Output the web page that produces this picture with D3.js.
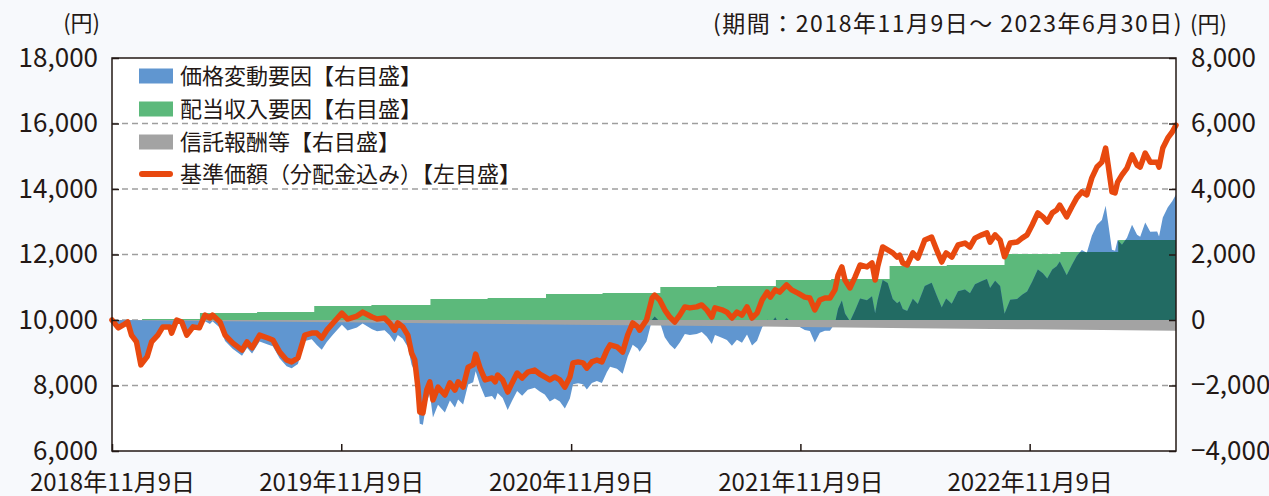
<!DOCTYPE html>
<html>
<head>
<meta charset="utf-8">
<script src="https://cdn.jsdelivr.net/npm/d3@7"></script>
<style>
  body { margin: 0; background: #f7f9fc; }
  text { font-family: "Noto Sans CJK JP", "Noto Sans", sans-serif; fill: #231815; }
</style>
</head>
<body>
<div id="chart"></div>
<script>
// 基準価額（分配金込み）と価格変動要因
const navDates = [
  "2018-11-09","2018-11-19","2018-11-27","2018-12-04","2018-12-10","2018-12-18","2018-12-25","2019-01-04","2019-01-11","2019-01-21",
  "2019-01-29","2019-02-09","2019-02-12","2019-02-20","2019-02-28","2019-03-08","2019-03-18","2019-03-28","2019-04-06","2019-04-14",
  "2019-04-18","2019-04-30","2019-05-08","2019-05-20","2019-06-04","2019-06-12","2019-06-20","2019-07-02","2019-07-15","2019-07-23",
  "2019-08-03","2019-08-14","2019-08-22","2019-09-01","2019-09-12","2019-09-23","2019-10-01","2019-10-09","2019-10-17","2019-10-27",
  "2019-11-10","2019-11-19","2019-12-04","2019-12-13","2019-12-28","2020-01-05","2020-01-17","2020-01-25","2020-02-02","2020-02-07",
  "2020-02-15","2020-02-23","2020-02-29","2020-03-05","2020-03-10","2020-03-13","2020-03-18","2020-03-24","2020-03-29","2020-04-03",
  "2020-04-11","2020-04-22","2020-04-30","2020-05-08","2020-05-13","2020-05-21","2020-05-29","2020-06-06","2020-06-10","2020-06-17",
  "2020-06-25","2020-07-06","2020-07-11","2020-07-15","2020-07-23","2020-07-31","2020-08-07","2020-08-15","2020-08-23","2020-09-01",
  "2020-09-12","2020-09-20","2020-09-28","2020-10-06","2020-10-14","2020-10-22","2020-10-30","2020-11-07","2020-11-12","2020-11-20",
  "2020-11-28","2020-12-04","2020-12-12","2020-12-20","2020-12-28","2021-01-05","2021-01-10","2021-01-21","2021-01-30","2021-02-07",
  "2021-02-15","2021-02-23","2021-02-26","2021-03-09","2021-03-18","2021-03-22","2021-03-30","2021-04-07","2021-04-15","2021-04-23",
  "2021-05-01","2021-05-09","2021-05-17","2021-05-28","2021-06-05","2021-06-13","2021-06-21","2021-06-26","2021-07-07","2021-07-15",
  "2021-07-23","2021-07-31","2021-08-08","2021-08-16","2021-08-24","2021-09-01","2021-09-09","2021-09-17","2021-09-22","2021-09-30",
  "2021-10-07","2021-10-18","2021-10-26","2021-11-05","2021-11-16","2021-11-24","2021-12-02","2021-12-10","2021-12-18","2021-12-26",
  "2022-01-03","2022-01-08","2022-01-14","2022-01-19","2022-01-27","2022-02-04","2022-02-12","2022-02-23","2022-03-03","2022-03-08",
  "2022-03-12","2022-03-20","2022-03-28","2022-04-05","2022-04-12","2022-04-16","2022-04-21","2022-04-28","2022-05-07","2022-05-15",
  "2022-05-26","2022-06-06","2022-06-14","2022-06-22","2022-06-29","2022-07-08","2022-07-18","2022-07-29","2022-08-06","2022-08-14",
  "2022-08-25","2022-09-02","2022-09-07","2022-09-15","2022-09-23","2022-09-30","2022-10-09","2022-10-20","2022-10-28","2022-11-05",
  "2022-11-13","2022-11-22","2022-11-30","2022-12-07","2022-12-15","2022-12-22","2022-12-27","2023-01-07","2023-01-15","2023-01-23",
  "2023-01-31","2023-02-08","2023-02-16","2023-02-24","2023-03-04","2023-03-10","2023-03-14","2023-03-20","2023-03-25","2023-03-29",
  "2023-04-05","2023-04-13","2023-04-21","2023-04-29","2023-05-04","2023-05-12","2023-05-20","2023-05-31","2023-06-03","2023-06-09",
  "2023-06-17","2023-06-24","2023-06-30"
];
const navValues = [
  10000,9760,9850,9940,9540,9330,8630,8880,9330,9540,
  9790,9790,9600,10000,9940,9540,9790,9760,10150,10060,
  10150,9940,9540,9300,9080,9330,9150,9540,9450,9390,
  9020,8780,8720,8840,9540,9600,9600,9450,9690,9910,
  10210,10030,10120,10240,10090,10030,10060,9910,9690,9910,
  9790,9540,8990,8780,7950,7190,7160,7860,8110,7560,
  7950,7710,8080,7860,8110,7950,8560,8630,8960,8530,
  8170,8230,8110,8320,8170,7800,8080,8380,8230,8410,
  8470,8350,8260,8170,8260,8170,7950,8260,8690,8720,
  8690,8530,8720,8780,8720,9080,9240,9180,9020,9540,
  9910,9790,9690,10000,10670,10760,10610,10310,10090,9940,
  10150,10400,10370,10400,10460,10310,10090,10370,10310,10240,
  10060,10240,10150,10400,10060,10210,10610,10850,10700,10920,
  10850,11070,10920,10820,10700,10670,10310,10610,10670,10670,
  10920,11370,11620,11220,10980,11310,11680,11620,11740,11220,
  11620,12230,12140,12050,11920,11980,11740,11680,12050,11890,
  12440,12530,12140,11770,12050,11920,12290,12350,12230,12500,
  12600,12660,12380,12600,12440,11930,12350,12380,12500,12600,
  12900,13270,13150,12990,13270,13360,13510,13150,13450,13730,
  13910,13820,14340,14670,14820,15250,14730,13910,13880,14210,
  14430,14640,15040,14730,14670,15100,14820,14820,14670,15250,
  15560,15740,15950
];
const priceValues = [
  0,-240,-145,-55,-455,-660,-1360,-1140,-690,-475,
  -225,-220,-410,-10,-70,-465,-215,-245,-35,-125,
  -35,-240,-640,-880,-1095,-845,-1020,-660,-745,-805,
  -1175,-1410,-1470,-1345,-645,-585,-760,-910,-670,-445,
  -145,-320,-230,-105,-285,-345,-310,-460,-675,-455,
  -575,-825,-1370,-1580,-2410,-3170,-3200,-2495,-2245,-2980,
  -2590,-2825,-2455,-2675,-2425,-2580,-1970,-1900,-1565,-1995,
  -2355,-2320,-2440,-2230,-2380,-2745,-2465,-2165,-2315,-2130,
  -2070,-2185,-2275,-2490,-2400,-2485,-2705,-2395,-1960,-1930,
  -1960,-2120,-1925,-1865,-1925,-1590,-1430,-1490,-1645,-1125,
  -755,-870,-970,-660,15,105,-45,-530,-745,-895,
  -685,-430,-460,-430,-365,-515,-735,-455,-540,-610,
  -790,-605,-695,-445,-780,-630,-230,15,-135,85,
  -165,60,-90,-185,-305,-335,-690,-390,-330,-325,
  -105,345,595,200,-40,290,660,605,725,205,
  610,1220,1130,640,515,575,335,275,650,490,
  1040,1135,745,380,660,500,875,935,815,1090,
  1190,1250,975,1195,1035,190,615,645,770,870,
  1170,1540,1425,1265,1545,1640,1790,1370,1675,1955,
  2135,2050,2570,2900,3050,3485,2965,2145,2115,2445,
  2300,2510,2910,2605,2545,2975,2695,2700,2550,3130,
  3445,3625,3835
];
// 配当収入要因（累積）
const divDates = ["2018-11-09","2018-12-27","2019-03-29","2019-06-28","2019-09-27","2019-12-27","2020-03-30","2020-06-29","2020-09-30",
  "2020-12-29","2021-03-31","2021-06-29","2021-10-01","2021-12-28","2022-03-31","2022-06-30","2022-09-30","2022-12-28","2023-03-30","2023-06-30"];
const divValues = [0,30,215,245,425,455,640,670,795,825,1010,1040,1220,1250,1650,1680,2015,2075,2445,2445];
// 信託報酬等
const feeDates = ["2018-11-09","2019-05-09","2019-11-09","2020-05-09","2020-11-09","2021-05-09","2021-11-09","2022-05-09","2022-11-09","2023-06-30"];
const feeValues = [0,-35,-70,-107,-142,-178,-213,-249,-285,-330];

const leftTicks = [6000, 8000, 10000, 12000, 14000, 16000, 18000];
const rightTicks = [-4000, -2000, 0, 2000, 4000, 6000, 8000];
const gridTicks = [8000, 10000, 12000, 14000, 16000];
const xTickDates = ["2018-11-09","2019-11-09","2020-11-09","2021-11-09","2022-11-09"];
const legendLabels = ["価格変動要因【右目盛】", "配当収入要因【右目盛】", "信託報酬等【右目盛】", "基準価額（分配金込み）【左目盛】"];

const colors = {blue: "#6096d0", green: "#5cb97b", teal: "#226b63", gray: "#a3a3a3", line: "#e8490f", ink: "#231815"};

const W = 1269, H = 496;
const plot = {left: 112, right: 1176, top: 58, bottom: 451};
const parse = d3.timeParse("%Y-%m-%d");

const svg = d3.select("#chart").append("svg")
  .attr("width", W).attr("height", H);

svg.append("rect")
  .attr("x", plot.left).attr("y", plot.top)
  .attr("width", plot.right - plot.left).attr("height", plot.bottom - plot.top)
  .attr("fill", "#ffffff");

const x = d3.scaleTime()
  .domain([parse("2018-11-09"), parse("2023-06-30")])
  .range([plot.left, plot.right]);
const yL = d3.scaleLinear().domain([6000, 18000]).range([plot.bottom, plot.top]);
const yR = d3.scaleLinear().domain([-4000, 8000]).range([plot.bottom, plot.top]);

// gridlines under the areas
svg.append("g").selectAll("line").data(gridTicks).join("line")
  .attr("x1", plot.left).attr("x2", plot.right)
  .attr("y1", d => yL(d)).attr("y2", d => yL(d))
  .attr("stroke", "#9e9e9e").attr("stroke-width", 1.5)
  .attr("stroke-dasharray", "6,4");

const navData = navDates.map((d, i) => ({date: parse(d), nav: navValues[i], price: priceValues[i]}));
const divData = divDates.map((d, i) => ({date: parse(d), v: divValues[i]}));
const feeData = feeDates.map((d, i) => ({date: parse(d), v: feeValues[i]}));

const divArea = d3.area().curve(d3.curveStepAfter)
  .x(d => x(d.date)).y0(yR(0)).y1(d => yR(d.v));
const priceArea = d3.area()
  .x(d => x(d.date)).y0(yR(0)).y1(d => yR(d.price));
const feeArea = d3.area()
  .x(d => x(d.date)).y0(yR(0)).y1(d => yR(d.v));

svg.append("defs").append("clipPath").attr("id", "divClip")
  .append("path").attr("d", divArea(divData));

svg.append("path").attr("d", divArea(divData)).attr("fill", colors.green);
svg.append("path").attr("d", priceArea(navData)).attr("fill", colors.blue);
// where price and dividend factors overlap
svg.append("path").attr("d", priceArea(navData)).attr("fill", colors.teal)
  .attr("clip-path", "url(#divClip)");
svg.append("path").attr("d", feeArea(feeData)).attr("fill", colors.gray);

const navLine = d3.line().x(d => x(d.date)).y(d => yL(d.nav));
svg.append("path").attr("d", navLine(navData))
  .attr("fill", "none").attr("stroke", colors.line)
  .attr("stroke-width", 5.5).attr("stroke-linejoin", "round").attr("stroke-linecap", "round");

// frame
svg.append("rect")
  .attr("x", plot.left).attr("y", plot.top)
  .attr("width", plot.right - plot.left).attr("height", plot.bottom - plot.top)
  .attr("fill", "none").attr("stroke", colors.ink).attr("stroke-width", 1.5);

function styleAxis(g, size) {
  g.select(".domain").remove();
  g.selectAll(".tick line").attr("stroke", colors.ink).attr("stroke-width", 1.5);
  g.selectAll(".tick text").attr("font-size", size)
    .attr("font-family", '"Noto Sans CJK JP", "Noto Sans", sans-serif').attr("fill", colors.ink);
}

svg.append("g").attr("transform", `translate(${plot.left},0)`)
  .call(d3.axisLeft(yL).tickValues(leftTicks).tickFormat(d3.format(",")).tickSizeInner(-7).tickSizeOuter(0).tickPadding(14))
  .call(g => styleAxis(g, 26));

svg.append("g").attr("transform", `translate(${plot.right},0)`)
  .call(d3.axisRight(yR).tickValues(rightTicks).tickFormat(d3.format(",")).tickSizeInner(-7).tickSizeOuter(0).tickPadding(15))
  .call(g => styleAxis(g, 26));

svg.append("g").attr("transform", `translate(0,${plot.bottom})`)
  .call(d3.axisBottom(x).tickValues(xTickDates.map(parse)).tickFormat(d3.timeFormat("%Y年%-m月%-d日"))
    .tickSizeInner(-7).tickSizeOuter(0).tickPadding(23))
  .call(g => styleAxis(g, 24));

// units and period
svg.append("text").attr("x", 100).attr("y", 31).attr("text-anchor", "end")
  .attr("font-size", 22).text("(円)");
svg.append("text").attr("x", 1183).attr("y", 32).attr("text-anchor", "end")
  .attr("font-size", 23).attr("letter-spacing", 1.5).text("(期間：2018年11月9日～ 2023年6月30日)");
svg.append("text").attr("x", 1190).attr("y", 32)
  .attr("font-size", 22).text("(円)");

// legend
const legendRows = [76, 109, 142, 174];
const legend = svg.append("g");
legendLabels.forEach((label, i) => {
  const cy = legendRows[i];
  if (i < 3) {
    legend.append("rect").attr("x", 139).attr("y", cy - 7.5).attr("width", 34).attr("height", 15)
      .attr("fill", [colors.blue, colors.green, colors.gray][i]);
  } else {
    legend.append("line").attr("x1", 142).attr("x2", 170).attr("y1", cy).attr("y2", cy)
      .attr("stroke", colors.line).attr("stroke-width", 6).attr("stroke-linecap", "round");
  }
  legend.append("text").attr("x", 180).attr("y", cy).attr("dy", "0.36em")
    .attr("font-size", 22).text(label);
});
</script>
</body>
</html>
